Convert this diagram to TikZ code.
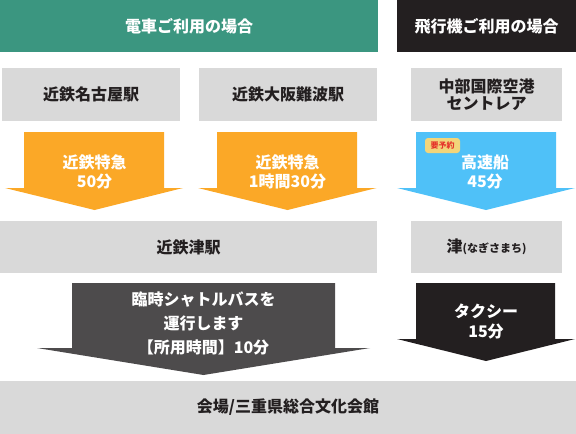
\documentclass[tikz,border=0pt]{standalone}
\usepackage{fontspec}
\setmainfont{Noto Sans CJK JP}
\definecolor{tgreen}{HTML}{3B9680}
\definecolor{tblack}{HTML}{231F20}
\definecolor{tgray}{HTML}{D9D9D9}
\definecolor{torange}{HTML}{FBA827}
\definecolor{tblue}{HTML}{4FC1F8}
\definecolor{tdark}{HTML}{4D4B4C}
\definecolor{tbadge}{HTML}{F2D57A}
\definecolor{tred}{HTML}{E5332A}
\definecolor{ttext}{HTML}{231F20}
\begin{document}
\begin{tikzpicture}[x=1pt,y=-1pt,
  txt/.style={font=\fontsize{16}{17}\selectfont\bfseries, align=center, inner sep=0pt},
  header/.style={txt, text=white, minimum height=52pt},
  graybox/.style={txt, fill=tgray, text=ttext, minimum height=53pt},
  arrowtxt/.style={font=\fontsize{16}{19}\selectfont\bfseries, align=center, inner sep=0pt, text=white}]
\useasboundingbox (0,0) rectangle (576,434);
% headers
\node[header, fill=tgreen, minimum width=378pt] (train) at (189,26) {電車ご利用の場合};
\node[header, fill=tblack, minimum width=179pt] (plane) at (486.5,26) {飛行機ご利用の場合};
% row 2
\node[graybox, minimum width=178pt] (nagoya) at (91,94.5) {近鉄名古屋駅};
\node[graybox, minimum width=178pt] (namba) at (288,94.5) {近鉄大阪難波駅};
\node[graybox, minimum width=151pt] (centrair) at (486.5,94.5) {中部国際空港\\セントレア};
% arrows row 2 -> 3
\fill[torange] (24,132) -- (164,132) -- (164,188) -- (183,188) -- (94.5,210) -- (5,188) -- (24,188) -- cycle;
\node[arrowtxt] (exp1) at (94.5,171.5) {近鉄特急\\50分};
\fill[torange] (217,132) -- (357,132) -- (357,188) -- (376.5,188) -- (287.5,210) -- (198,188) -- (217,188) -- cycle;
\node[arrowtxt] (exp2) at (287.5,171.5) {近鉄特急\\1時間30分};
\fill[tblue] (416,132) -- (556,132) -- (556,188) -- (575,188) -- (486,210) -- (397,188) -- (416,188) -- cycle;
\node[arrowtxt] (ship) at (485,171.5) {高速船\\45分};
\node[fill=tbadge, rounded corners=3pt, minimum width=35pt, minimum height=15pt, inner sep=0pt,
  text=tred, font=\fontsize{8}{9}\selectfont\bfseries] (badge) at (442.5,145.5) {要予約};
% row 3
\node[graybox, minimum width=377pt, minimum height=52pt] (tsu) at (188.5,247) {近鉄津駅};
\node[graybox, minimum width=151pt, minimum height=52pt] (nagisa) at (486.5,247) {津{\fontsize{11}{13}\selectfont (なぎさまち)}};
% arrows row 3 -> bottom
\fill[tdark] (72,283) -- (335,283) -- (335,348) -- (370,348) -- (203.5,375) -- (37,348) -- (72,348) -- cycle;
\node[font=\fontsize{16}{24}\selectfont\bfseries, align=center, inner sep=0pt, text=white] (bus) at (203.5,323) {臨時シャトルバスを\\運行します\\【所用時間】10分};
\fill[tblack] (416,283) -- (555,283) -- (555,339) -- (575,339) -- (486,361) -- (397,339) -- (416,339) -- cycle;
\node[arrowtxt, font=\fontsize{16}{20}\selectfont\bfseries] (taxi) at (486,322) {タクシー\\15分};
% bottom
\node[graybox, minimum width=576pt] (venue) at (288,407.5) {会場/三重県総合文化会館};
\end{tikzpicture}
\end{document}
